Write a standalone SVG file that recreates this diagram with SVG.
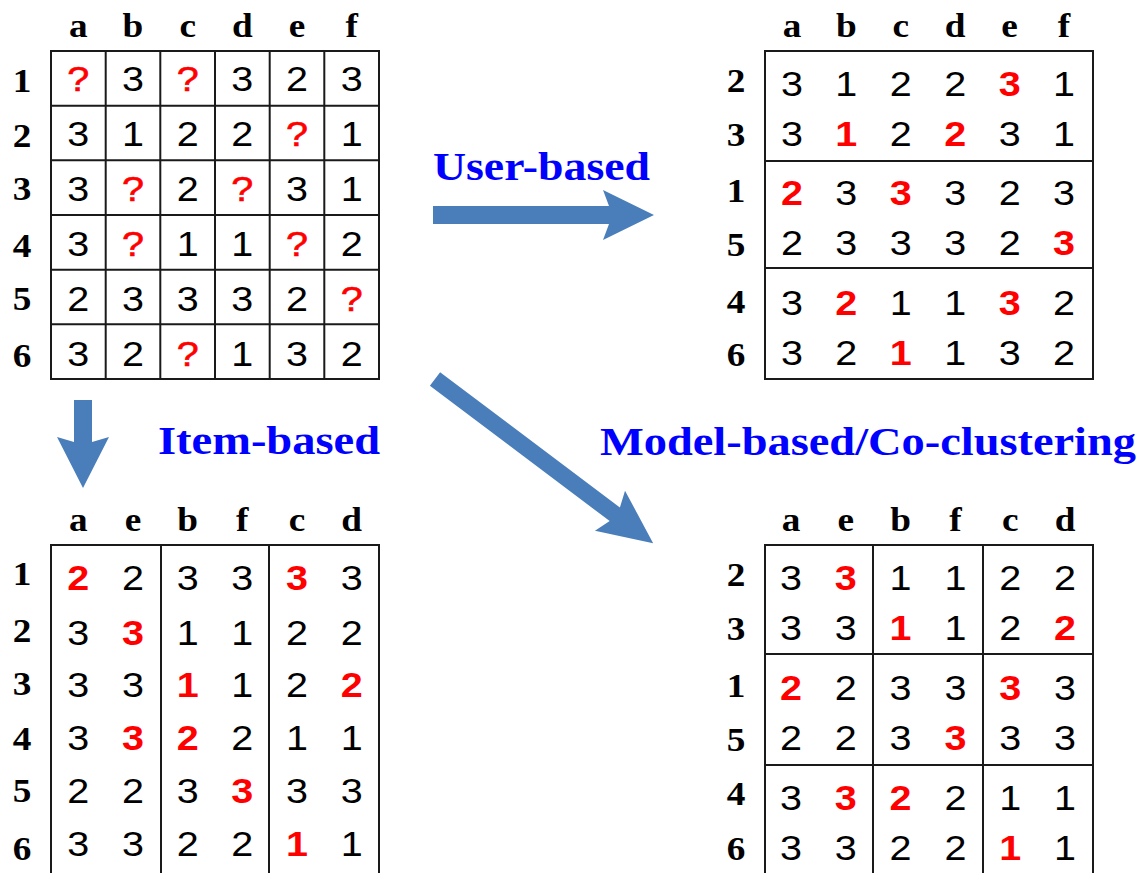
<svg xmlns="http://www.w3.org/2000/svg" width="1141" height="873" viewBox="0 0 1141 873">
  <style>
    .grid { fill: none; stroke: #1a1a1a; stroke-width: 2; }
    .num { font-family: "Liberation Sans", Arial, sans-serif; font-size: 35px; text-anchor: middle; fill: #000; }
    .hot { fill: #ff0000; font-weight: bold; }
    .q { fill: #ff0000; stroke: #ff0000; stroke-width: 0.6; }
    .lab { font-family: "Liberation Serif", "Times New Roman", serif; font-weight: bold; font-size: 33px; text-anchor: middle; fill: #000; }
    .title { font-family: "Liberation Serif", "Times New Roman", serif; font-weight: bold; font-size: 40px; fill: #0000ff; }
    .arrow { fill: #4a7ebb; }
  </style>
  <rect width="1141" height="873" fill="#ffffff"/>

  <!-- Rating matrix with unknown entries -->
  <g id="grid-original">
    <rect class="grid" x="51" y="51" width="328" height="328"/>
    <path class="grid" d="M105.7,51V379M160.3,51V379M215,51V379M269.7,51V379M324.3,51V379M51,105.7H379M51,160.3H379M51,215H379M51,269.7H379M51,324.3H379"/>
    <g transform="translate(78.3 0) scale(1.13 1)">
      <text class="lab" x="0 48.4 96.8 145.1 193.5 241.9" y="37">abcdef</text>
      <text class="num" x="0 48.4 96.8 145.1 193.5 241.9" y="91"><tspan class="q">?</tspan>3<tspan class="q">?</tspan>323</text>
      <text class="num" x="0 48.4 96.8 145.1 193.5 241.9" y="146">3122<tspan class="q">?</tspan>1</text>
      <text class="num" x="0 48.4 96.8 145.1 193.5 241.9" y="201">3<tspan class="q">?</tspan>2<tspan class="q">?</tspan>31</text>
      <text class="num" x="0 48.4 96.8 145.1 193.5 241.9" y="256">3<tspan class="q">?</tspan>11<tspan class="q">?</tspan>2</text>
      <text class="num" x="0 48.4 96.8 145.1 193.5 241.9" y="311">23332<tspan class="q">?</tspan></text>
      <text class="num" x="0 48.4 96.8 145.1 193.5 241.9" y="366">32<tspan class="q">?</tspan>132</text>
    </g>
    <g transform="translate(22 0) scale(1.13 1)">
      <text class="lab" x="0" y="92">1</text>
      <text class="lab" x="0" y="147">2</text>
      <text class="lab" x="0" y="200">3</text>
      <text class="lab" x="0" y="257">4</text>
      <text class="lab" x="0" y="310">5</text>
      <text class="lab" x="0" y="367">6</text>
    </g>
  </g>

  <!-- Users grouped into row clusters -->
  <g id="grid-user">
    <rect class="grid" x="765" y="51" width="328" height="328"/>
    <path class="grid" d="M765,161H1093M765,268H1093"/>
    <g transform="translate(792 0) scale(1.13 1)">
      <text class="lab" x="0 48.1 96.3 144.4 192.6 240.7" y="37">abcdef</text>
      <text class="num" x="0 48.1 96.3 144.4 192.6 240.7" y="96">3122<tspan class="hot">3</tspan>1</text>
      <text class="num" x="0 48.1 96.3 144.4 192.6 240.7" y="146">3<tspan class="hot">1</tspan>2<tspan class="hot">2</tspan>31</text>
      <text class="num" x="0 48.1 96.3 144.4 192.6 240.7" y="205"><tspan class="hot">2</tspan>3<tspan class="hot">3</tspan>323</text>
      <text class="num" x="0 48.1 96.3 144.4 192.6 240.7" y="255">23332<tspan class="hot">3</tspan></text>
      <text class="num" x="0 48.1 96.3 144.4 192.6 240.7" y="315">3<tspan class="hot">2</tspan>11<tspan class="hot">3</tspan>2</text>
      <text class="num" x="0 48.1 96.3 144.4 192.6 240.7" y="365">32<tspan class="hot">1</tspan>132</text>
    </g>
    <g transform="translate(736 0) scale(1.13 1)">
      <text class="lab" x="0" y="92">2</text>
      <text class="lab" x="0" y="146">3</text>
      <text class="lab" x="0" y="202">1</text>
      <text class="lab" x="0" y="256">5</text>
      <text class="lab" x="0" y="313">4</text>
      <text class="lab" x="0" y="366">6</text>
    </g>
  </g>

  <!-- Items grouped into column clusters -->
  <g id="grid-item">
    <path class="grid" d="M51,880V545H379V880M161,545V880M269,545V880"/>
    <g transform="translate(78.3 0) scale(1.13 1)">
      <text class="lab" x="0 48.4 96.8 145.1 193.5 241.9" y="531">aebfcd</text>
      <text class="num" x="0 48.4 96.8 145.1 193.5 241.9" y="590"><tspan class="hot">2</tspan>233<tspan class="hot">3</tspan>3</text>
      <text class="num" x="0 48.4 96.8 145.1 193.5 241.9" y="645">3<tspan class="hot">3</tspan>1122</text>
      <text class="num" x="0 48.4 96.8 145.1 193.5 241.9" y="697">33<tspan class="hot">1</tspan>12<tspan class="hot">2</tspan></text>
      <text class="num" x="0 48.4 96.8 145.1 193.5 241.9" y="750">3<tspan class="hot">3</tspan><tspan class="hot">2</tspan>211</text>
      <text class="num" x="0 48.4 96.8 145.1 193.5 241.9" y="803">223<tspan class="hot">3</tspan>33</text>
      <text class="num" x="0 48.4 96.8 145.1 193.5 241.9" y="856">3322<tspan class="hot">1</tspan>1</text>
    </g>
    <g transform="translate(22 0) scale(1.13 1)">
      <text class="lab" x="0" y="585">1</text>
      <text class="lab" x="0" y="642">2</text>
      <text class="lab" x="0" y="695">3</text>
      <text class="lab" x="0" y="750">4</text>
      <text class="lab" x="0" y="802">5</text>
      <text class="lab" x="0" y="860">6</text>
    </g>
  </g>

  <!-- Users and items co-clustered into blocks -->
  <g id="grid-model">
    <path class="grid" d="M765,880V545H1093V880M765,654H1093M765,765H1093M873,545V880M983,545V880"/>
    <g transform="translate(791 0) scale(1.13 1)">
      <text class="lab" x="0 48.5 97 145.5 194 242.5" y="531">aebfcd</text>
      <text class="num" x="0 48.5 97 145.5 194 242.5" y="590">3<tspan class="hot">3</tspan>1122</text>
      <text class="num" x="0 48.5 97 145.5 194 242.5" y="640">33<tspan class="hot">1</tspan>12<tspan class="hot">2</tspan></text>
      <text class="num" x="0 48.5 97 145.5 194 242.5" y="700"><tspan class="hot">2</tspan>233<tspan class="hot">3</tspan>3</text>
      <text class="num" x="0 48.5 97 145.5 194 242.5" y="750">223<tspan class="hot">3</tspan>33</text>
      <text class="num" x="0 48.5 97 145.5 194 242.5" y="810">3<tspan class="hot">3</tspan><tspan class="hot">2</tspan>211</text>
      <text class="num" x="0 48.5 97 145.5 194 242.5" y="860">3322<tspan class="hot">1</tspan>1</text>
    </g>
    <g transform="translate(736 0) scale(1.13 1)">
      <text class="lab" x="0" y="586">2</text>
      <text class="lab" x="0" y="640">3</text>
      <text class="lab" x="0" y="697">1</text>
      <text class="lab" x="0" y="751">5</text>
      <text class="lab" x="0" y="805">4</text>
      <text class="lab" x="0" y="860">6</text>
    </g>
  </g>

  <!-- Block arrows between matrices, with their method labels -->
  <g id="connectors">
    <polygon class="arrow" transform="translate(433 215)" points="0,-9 176,-9 170,-25 221,0 170,25 176,9 0,9"/>
    <text class="title" x="433" y="180" textLength="217" lengthAdjust="spacingAndGlyphs">User-based</text>

    <polygon class="arrow" transform="translate(83 400) rotate(90)" points="0,-9 42,-9 37,-26 88,0 37,26 42,9 0,9"/>
    <text class="title" x="158" y="454" textLength="222" lengthAdjust="spacingAndGlyphs">Item-based</text>

    <polygon class="arrow" transform="translate(435 379) rotate(36.96)" points="0,-8.5 225,-8.5 219,-25 273,0 219,25 225,8.5 0,8.5"/>
    <text class="title" x="600" y="455" textLength="536" lengthAdjust="spacingAndGlyphs">Model-based/Co-clustering</text>
  </g>
</svg>
